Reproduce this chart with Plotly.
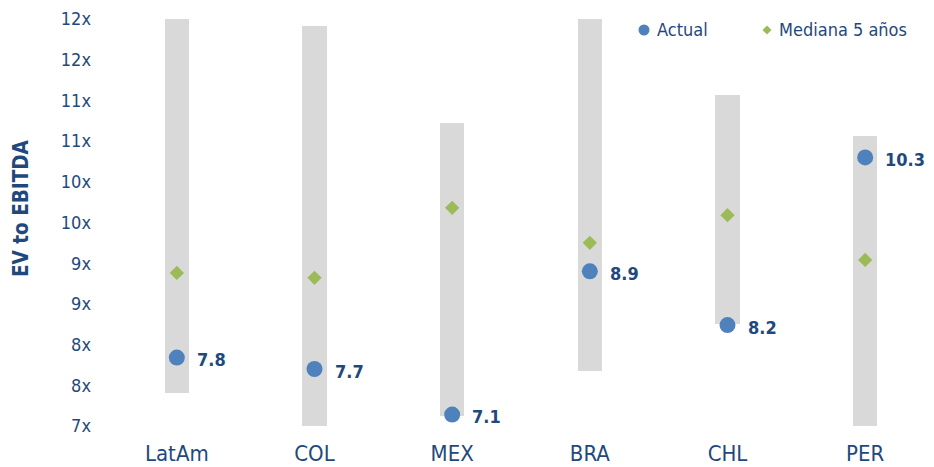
import numpy as np
import plotly.graph_objects as go

# Markets and EV/EBITDA multiples
markets = ["LatAm", "COL", "MEX", "BRA", "CHL", "PER"]
range_low = [7.40, 7.00, 7.12, 7.67, 8.25, 7.00]
range_high = [12.00, 11.91, 10.72, 12.00, 11.07, 10.56]
actual = [7.84, 7.70, 7.14, 8.90, 8.24, 10.30]
median_5y = [8.88, 8.82, 9.68, 9.25, 9.59, 9.04]

y_tick_vals = [7.0, 7.5, 8.0, 8.5, 9.0, 9.5, 10.0, 10.5, 11.0, 11.5, 12.0]
y_tick_text = ["7x", "8x", "8x", "9x", "9x", "10x", "10x", "11x", "11x", "12x", "12x"]

legend_names = ["Actual", "Mediana 5 años"]
y_title = "EV to EBITDA"

NAVY = "#1F497D"
BLUE = "#4F81BD"
GREEN = "#9BBB59"
GREY = "#D9D9D9"
FONT = "DejaVu Sans Condensed"

# plot area in pixels
L, R, T, B = 108, 0, 19, 41
W, H = 934, 467
PW, PH = W - L - R, H - T - B


def px(xp):
    return (xp - L) / PW


def py(yp):
    return (H - B - yp) / PH


fig = go.Figure()

# Historical range as floating bars
fig.add_trace(go.Bar(
    x=markets,
    y=np.array(range_high) - np.array(range_low),
    base=range_low,
    width=0.175,
    marker=dict(color=GREY, line=dict(width=0)),
    showlegend=False,
    hoverinfo="skip",
))

# 5-year median
fig.add_trace(go.Scatter(
    x=markets, y=median_5y, mode="markers",
    marker=dict(symbol="diamond", size=11, color=GREEN),
    showlegend=False, name=legend_names[1],
))

# Current multiple
fig.add_trace(go.Scatter(
    x=markets, y=actual, mode="markers",
    marker=dict(symbol="circle", size=16, color=BLUE),
    showlegend=False, name=legend_names[0],
))

# Value labels for the current multiple
for m, v in zip(markets, actual):
    fig.add_annotation(
        x=m, y=v, text=f"<b>{v:.1f}</b>", showarrow=False,
        xanchor="left", yanchor="middle", xshift=18, yshift=-2,
        font=dict(family=FONT, size=18, color=NAVY),
    )

# Legend: compact marker + label pairs in the top right
fig.add_shape(type="circle", xref="paper", yref="paper",
              xsizemode="pixel", ysizemode="pixel",
              xanchor=px(644), yanchor=py(30),
              x0=-5.5, x1=5.5, y0=-5.5, y1=5.5,
              fillcolor=BLUE, line=dict(width=0))
fig.add_shape(type="path", xref="paper", yref="paper",
              xsizemode="pixel", ysizemode="pixel",
              xanchor=px(767), yanchor=py(30),
              path="M -4.5 0 L 0 4.5 L 4.5 0 L 0 -4.5 Z",
              fillcolor=GREEN, line=dict(width=0))
for name, xl in zip(legend_names, [655, 777]):
    fig.add_annotation(
        x=px(xl), y=py(30), xref="paper", yref="paper", text=name,
        showarrow=False, xanchor="left", yanchor="middle",
        font=dict(family=FONT, size=18, color=NAVY),
    )

# Vertical axis title
fig.add_annotation(
    x=px(21), y=py(208), xref="paper", yref="paper",
    text=f"<b>{y_title}</b>", textangle=-90, showarrow=False,
    xanchor="center", yanchor="middle",
    font=dict(family=FONT, size=20.5, color=NAVY),
)

fig.update_layout(
    width=W, height=H,
    margin=dict(l=L, r=R, t=T, b=B),
    paper_bgcolor="white", plot_bgcolor="white",
    font=dict(family=FONT, color=NAVY),
    bargap=0,
    showlegend=False,
    xaxis=dict(
        showgrid=False, zeroline=False, showline=False, ticks="",
        tickfont=dict(family=FONT, size=22, color=NAVY),
        ticklabelstandoff=12,
        range=[-0.5, 5.5],
    ),
    yaxis=dict(
        range=[7, 12], showgrid=False, zeroline=False, showline=False, ticks="",
        tickvals=y_tick_vals, ticktext=y_tick_text,
        tickfont=dict(family=FONT, size=18, color=NAVY),
        ticklabelstandoff=16,
    ),
)

fig.write_html("out.html")
